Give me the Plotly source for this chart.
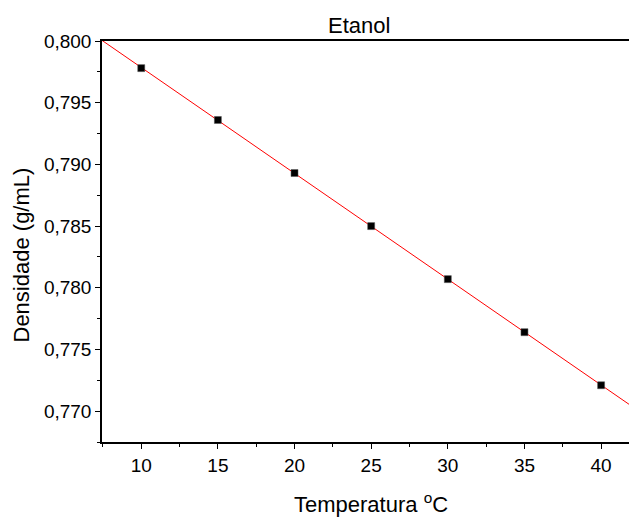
import numpy as np
import plotly.graph_objects as go

# Ethanol density vs temperature
temperatura = [10, 15, 20, 25, 30, 35, 40]
densidade = [0.7978, 0.7936, 0.7893, 0.7850, 0.7807, 0.7764, 0.7721]

x_range = [7.44, 41.82]
y_range = [0.7675, 0.800]

# linear fit through the measurements, drawn across the whole x range
slope, intercept = np.polyfit(temperatura, densidade, 1)
fit_x = np.array(x_range)
fit_y = slope * fit_x + intercept

font_family = "Liberation Sans, Arial, sans-serif"

fig = go.Figure()
fig.add_trace(go.Scatter(
    x=fit_x, y=fit_y, mode="lines",
    line=dict(color="red", width=1),
    showlegend=False, hoverinfo="skip",
))
fig.add_trace(go.Scatter(
    x=temperatura, y=densidade, mode="markers",
    marker=dict(symbol="square", size=7, color="black",
                line=dict(color="#555", width=0.5)),
    showlegend=False,
))

axis_common = dict(
    showgrid=False, zeroline=False,
    showline=True, linecolor="black", linewidth=1.5,
    ticks="outside", ticklen=5, tickwidth=1.2, tickcolor="black",
    tickfont=dict(family=font_family, size=19, color="black"),
)

fig.update_xaxes(
    range=x_range, tick0=0, dtick=5, mirror=True,
    minor=dict(ticks="outside", ticklen=3, tickwidth=1.2, tickcolor="black", dtick=2.5, tick0=0),
    **axis_common,
)
fig.update_yaxes(
    range=y_range, tick0=0.77, dtick=0.005, tickformat=".3f",
    minor=dict(ticks="outside", ticklen=3, tickwidth=1.2, tickcolor="black", dtick=0.0025, tick0=0.77),
    **axis_common,
)

# figure size and plot-area margins, in pixels
L, R, T, B = 102, 0, 41, 77
W, H = 629, 519
pw, ph = W - L - R, H - T - B


def to_paper(px, py):
    """Pixel position (from the top-left corner) to paper coordinates."""
    return (px - L) / pw, (H - B - py) / ph


title_font = dict(family=font_family, size=22, color="black")
titles = [
    ("Etanol", 358.7, 25.5, 0, "middle"),
    ("Temperatura <sup>o</sup>C", 371, 518.5, 0, "bottom"),
    ("Densidade (g/mL)", 20.5, 255, -90, "middle"),
]
for text, px, py, angle, yanchor in titles:
    ax, ay = to_paper(px, py)
    fig.add_annotation(text=text, x=ax, y=ay, xref="paper", yref="paper",
                       xanchor="center", yanchor=yanchor, textangle=angle,
                       showarrow=False, font=title_font)

fig.update_layout(
    width=W, height=H,
    margin=dict(l=L, r=R, t=T, b=B),
    paper_bgcolor="white", plot_bgcolor="white",
    separators=",.",
)

fig.write_html("out.html")
